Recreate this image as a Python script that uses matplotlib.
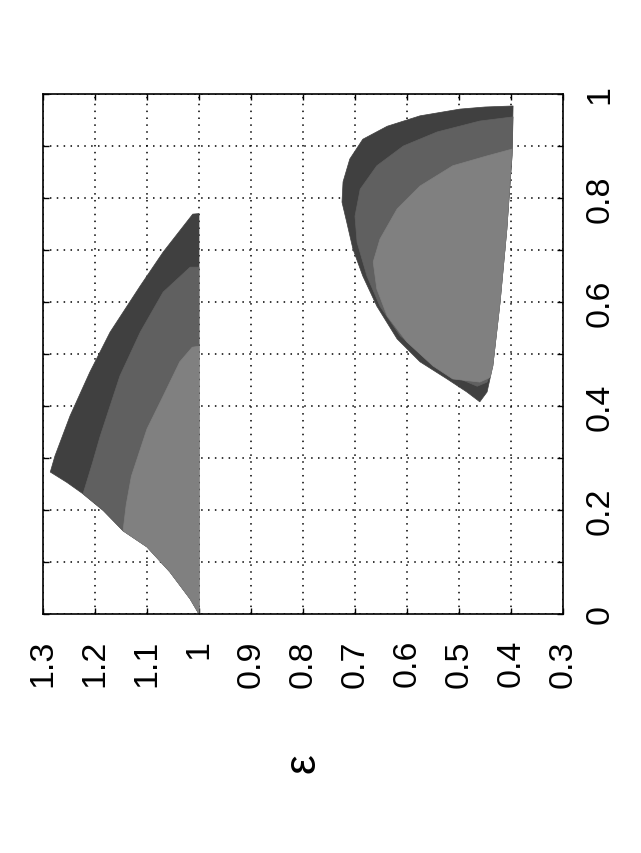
import matplotlib
matplotlib.use("Agg")
import matplotlib.pyplot as plt

plt.rcParams['font.family'] = ['Liberation Sans', 'DejaVu Sans']

# boundaries of the two regions (epsilon, x)
# left region: outer (dark), middle and inner (light) bands
left_outer_eps = [1.0, 1.017, 1.056, 1.1, 1.146, 1.184, 1.223, 1.254, 1.286, 1.277, 1.248, 1.21, 1.171,
                  1.113, 1.069, 1.012, 1.0]
left_outer_x = [0.0, 0.029, 0.081, 0.129, 0.160, 0.199, 0.231, 0.253, 0.273, 0.304, 0.381, 0.465, 0.542,
                0.631, 0.696, 0.769, 0.77]
left_mid_eps = [1.0, 1.017, 1.056, 1.1, 1.146, 1.184, 1.223, 1.205, 1.19, 1.152, 1.113, 1.069, 1.017, 1.0]
left_mid_x = [0.0, 0.029, 0.081, 0.129, 0.160, 0.199, 0.231, 0.29, 0.342, 0.458, 0.542, 0.619, 0.667, 0.667]
left_light_eps = [1.0, 1.017, 1.056, 1.1, 1.146, 1.14, 1.13, 1.1, 1.069, 1.037, 1.013, 1.0]
left_light_x = [0.0, 0.029, 0.081, 0.129, 0.160, 0.21, 0.265, 0.356, 0.419, 0.485, 0.513, 0.515]

# right region
right_outer_eps = [0.396, 0.45, 0.498, 0.575, 0.638, 0.685, 0.71, 0.723, 0.725, 0.716, 0.704, 0.685, 0.658,
                   0.619, 0.575, 0.523, 0.485, 0.46, 0.446, 0.435, 0.421, 0.408, 0.398]
right_outer_x = [0.977, 0.975, 0.971, 0.958, 0.938, 0.913, 0.875, 0.831, 0.792, 0.754, 0.702, 0.65, 0.592,
                 0.529, 0.485, 0.452, 0.427, 0.408, 0.427, 0.477, 0.6, 0.74, 0.881]
right_mid_eps = [0.396, 0.46, 0.542, 0.607, 0.658, 0.69, 0.7, 0.696, 0.677, 0.652, 0.613, 0.562,
                 0.512, 0.465, 0.446, 0.435, 0.421, 0.408, 0.398]
right_mid_x = [0.956, 0.948, 0.927, 0.9, 0.862, 0.817, 0.765, 0.715, 0.65, 0.592, 0.535, 0.49,
               0.458, 0.438, 0.446, 0.477, 0.6, 0.74, 0.881]
right_light_eps = [0.398, 0.446, 0.512, 0.575, 0.619, 0.652, 0.665, 0.658, 0.638, 0.6, 0.55, 0.512,
                   0.46, 0.44, 0.435, 0.421, 0.408]
right_light_x = [0.894, 0.881, 0.862, 0.823, 0.779, 0.721, 0.677, 0.625, 0.573, 0.523, 0.477, 0.452,
                 0.446, 0.455, 0.477, 0.6, 0.74]

eps_ticks = [1.3, 1.2, 1.1, 1.0, 0.9, 0.8, 0.7, 0.6, 0.5, 0.4, 0.3]
eps_labels = ["1.3", "1.2", "1.1", "1", "0.9", "0.8", "0.7", "0.6", "0.5", "0.4", "0.3"]
x_ticks = [0.0, 0.1, 0.2, 0.3, 0.4, 0.5, 0.6, 0.7, 0.8, 0.9, 1.0]
x_labels = ["0", "", "0.2", "", "0.4", "", "0.6", "", "0.8", "", "1"]

dark = "#404040"
mid = "#606060"
light = "#808080"

fig = plt.figure(figsize=(6.41, 8.54), dpi=100)
ax = fig.add_axes([43 / 641, 1 - 615 / 854, 520 / 641, 520 / 854])

# chart is drawn turned by 90 degrees: epsilon runs right to left
ax.fill(left_outer_eps, left_outer_x, color=dark, lw=0.5, zorder=2)
ax.fill(left_mid_eps, left_mid_x, color=mid, lw=0.5, zorder=3)
ax.fill(left_light_eps, left_light_x, color=light, lw=0.5, zorder=4)
ax.fill(right_outer_eps, right_outer_x, color=dark, lw=0.5, zorder=2)
ax.fill(right_mid_eps, right_mid_x, color=mid, lw=0.5, zorder=3)
ax.fill(right_light_eps, right_light_x, color=light, lw=0.5, zorder=4)

ax.set_xlim(1.3, 0.3)
ax.set_ylim(0, 1)
ax.set_xticks(eps_ticks)
ax.set_xticklabels(eps_labels, rotation=90, fontsize=24.5)
ax.set_yticks(x_ticks)
ax.set_yticklabels(x_labels, rotation=90, fontsize=24.5, va="center")

ax.tick_params(direction="in", length=4.5, width=1, top=True, bottom=True, left=True, right=True,
               labelleft=False, labelright=True, colors="black")
ax.tick_params(axis="x", pad=18)
ax.tick_params(axis="y", pad=15.5)

ax.grid(True, color="black", linestyle=(0, (1, 3.5)), linewidth=1.1, zorder=1)
ax.set_axisbelow(True)
for s in ax.spines.values():
    s.set_linewidth(1.2)
    s.set_zorder(5)

fig.text(303 / 641, 1 - 763 / 854, "ε", rotation=90, fontsize=32, ha="center", va="center")

fig.savefig("out.png", dpi=100)
